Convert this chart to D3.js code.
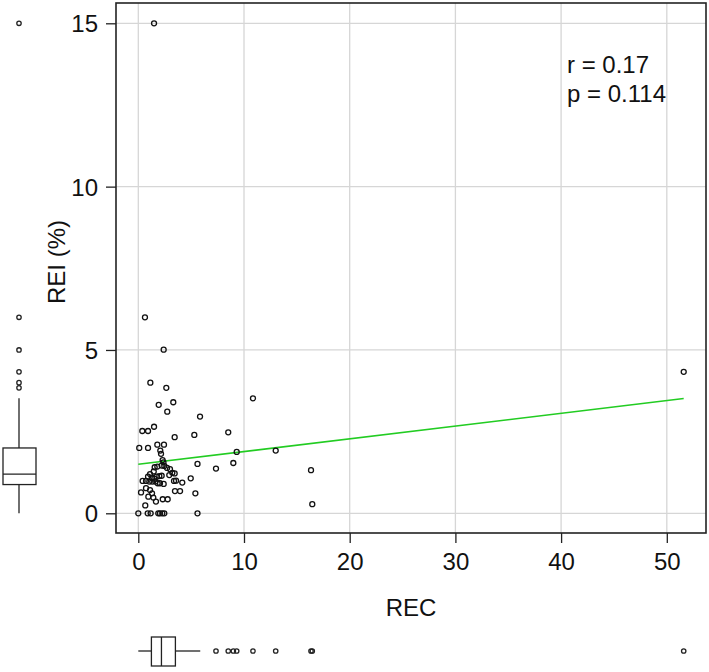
<!DOCTYPE html>
<html>
<head>
<meta charset="utf-8">
<script src="https://cdn.jsdelivr.net/npm/d3@7"></script>
<style>
  html, body { margin: 0; padding: 0; background: #fff; }
  svg { display: block; }
  text { font-family: "Liberation Sans", Arial, sans-serif; fill: #111; }
</style>
</head>
<body>
<svg id="chart" width="709" height="672"></svg>
<script>
// ---- data ----
const recValues = [1.49,0.63,2.40,1.14,2.65,1.93,3.31,2.74,10.85,5.84,0.38,0.92,1.49,3.44,5.30,8.51,0.09,0.92,1.80,2.43,2.08,2.15,9.31,13.0,2.30,2.38,5.6,8.99,7.35,4.96,5.4,5.6,16.34,16.46,51.6,
  1.55,1.80,2.21,2.46,2.72,3.0,2.93,3.22,3.44,3.38,3.57,4.16,3.47,3.95,1.46,1.11,0.92,1.27,1.51,1.74,1.99,2.21,0.41,0.73,1.04,1.32,1.61,1.83,2.05,2.40,0.73,1.11,0.26,1.30,0.95,1.42,1.67,2.31,2.78,0.66,0,0.89,1.17,1.89,2.05,2.27,2.46];
const reiValues = [15.0,6.0,5.01,4.0,3.84,3.32,3.40,3.11,3.52,2.96,2.52,2.52,2.65,2.33,2.40,2.48,2.0,2.0,2.10,2.10,1.92,1.82,1.88,1.92,1.63,1.56,1.51,1.54,1.37,1.07,0.61,0,1.32,0.28,4.33,
  1.41,1.43,1.46,1.45,1.39,1.35,1.17,1.24,1.22,0.99,1.0,0.94,0.68,0.68,1.28,1.20,1.12,1.09,1.06,1.12,1.14,1.15,0.99,0.99,0.97,0.97,0.97,0.92,0.92,0.90,0.77,0.71,0.64,0.61,0.51,0.48,0.36,0.43,0.43,0.24,0,0,0,0,0,0,0];
const xTicks = [0,10,20,30,40,50];
const yTicks = [0,5,10,15];
const fitIntercept = 1.50;
const fitSlope = 0.039;
const fitRange = [0, 51.6];
// marginal boxplot statistics [whiskerLow, q1, median, q3, whiskerHigh]
const reiBox = [0, 0.88, 1.2, 2.0, 3.52];
const reiOutliers = [3.84, 4.0, 4.33, 5.0, 6.0, 15.0];
const recBox = [0, 1.24, 2.19, 3.51, 5.86];
const recOutliers = [7.35, 8.51, 8.99, 9.31, 10.85, 13.0, 16.34, 16.46, 51.6];
const statLines = ["r = 0.17", "p = 0.114"];
const xLabel = "REC";
const yLabel = "REI (%)";

// ---- layout ----
const svg = d3.select("#chart");
const box = {left: 116, right: 706, top: 3, bottom: 533};
const x = d3.scaleLinear().domain([0, 50]).range([138.3, 666.8]);
const y = d3.scaleLinear().domain([0, 15]).range([513.3, 23.3]);
const gridColor = "#d6d6d6";
const fs = 24;

// grid
svg.append("g").selectAll("line").data(xTicks).join("line")
  .attr("x1", d => x(d)).attr("x2", d => x(d))
  .attr("y1", box.top).attr("y2", box.bottom)
  .attr("stroke", gridColor).attr("stroke-width", 1.3);
svg.append("g").selectAll("line").data(yTicks).join("line")
  .attr("x1", box.left).attr("x2", box.right)
  .attr("y1", d => y(d)).attr("y2", d => y(d))
  .attr("stroke", gridColor).attr("stroke-width", 1.3);

// axes
const xAxis = d3.axisBottom(x).tickValues(xTicks).tickSize(10).tickPadding(10).tickFormat(d3.format("d"));
const gx = svg.append("g").attr("transform", `translate(0,${box.bottom})`).call(xAxis);
gx.select(".domain").remove();
gx.selectAll("line").attr("stroke", "#222").attr("stroke-width", 1.3);
gx.selectAll("text").attr("font-size", fs).attr("fill", "#111")
  .attr("font-family", "Liberation Sans, Arial, sans-serif");

const yAxis = d3.axisLeft(y).tickValues(yTicks).tickSize(10).tickPadding(8).tickFormat(d3.format("d"));
const gy = svg.append("g").attr("transform", `translate(${box.left},0)`).call(yAxis);
gy.select(".domain").remove();
gy.selectAll("line").attr("stroke", "#222").attr("stroke-width", 1.3);
gy.selectAll("text").attr("font-size", fs).attr("fill", "#111").attr("dy", "0.36em")
  .attr("font-family", "Liberation Sans, Arial, sans-serif");

// plot frame
svg.append("rect")
  .attr("x", box.left).attr("y", box.top)
  .attr("width", box.right - box.left).attr("height", box.bottom - box.top)
  .attr("fill", "none").attr("stroke", "#222").attr("stroke-width", 1.6);

// fit line
svg.append("line")
  .attr("x1", x(fitRange[0])).attr("y1", y(fitIntercept + fitSlope * fitRange[0]))
  .attr("x2", x(fitRange[1])).attr("y2", y(fitIntercept + fitSlope * fitRange[1]))
  .attr("stroke", "#22cc22").attr("stroke-width", 1.6);

// points
const pts = recValues.map((d, i) => ({rec: d, rei: reiValues[i]}));
svg.append("g").selectAll("circle").data(pts).join("circle")
  .attr("cx", d => x(d.rec)).attr("cy", d => y(d.rei)).attr("r", 2.5)
  .attr("fill", "none").attr("stroke", "#111").attr("stroke-width", 1.3);

// stats text
svg.append("g").selectAll("text").data(statLines).join("text")
  .attr("x", 567).attr("y", (d, i) => 73 + i * 29)
  .attr("font-size", fs).text(d => d);

// axis titles
svg.append("text").attr("x", (box.left + box.right) / 2).attr("y", 616)
  .attr("text-anchor", "middle").attr("font-size", fs).text(xLabel);
svg.append("text").attr("transform", `translate(65,262) rotate(-90)`)
  .attr("text-anchor", "middle").attr("font-size", fs).text(yLabel);

// left marginal boxplot (REI)
const lb = {x0: 3, x1: 36, cx: 19};
const gl = svg.append("g").attr("stroke", "#222").attr("stroke-width", 1.3).attr("fill", "none");
gl.append("line").attr("x1", lb.cx).attr("x2", lb.cx).attr("y1", y(reiBox[0])).attr("y2", y(reiBox[1]));
gl.append("line").attr("x1", lb.cx).attr("x2", lb.cx).attr("y1", y(reiBox[3])).attr("y2", y(reiBox[4]));
gl.append("rect").attr("x", lb.x0).attr("width", lb.x1 - lb.x0)
  .attr("y", y(reiBox[3])).attr("height", y(reiBox[1]) - y(reiBox[3]));
gl.append("line").attr("x1", lb.x0).attr("x2", lb.x1).attr("y1", y(reiBox[2])).attr("y2", y(reiBox[2]));
gl.selectAll("circle").data(reiOutliers).join("circle")
  .attr("cx", lb.cx).attr("cy", d => y(d)).attr("r", 2.2);

// bottom marginal boxplot (REC)
const bb = {y0: 637, y1: 666, cy: 651};
const gb = svg.append("g").attr("stroke", "#222").attr("stroke-width", 1.3).attr("fill", "none");
gb.append("line").attr("y1", bb.cy).attr("y2", bb.cy).attr("x1", x(recBox[0])).attr("x2", x(recBox[1]));
gb.append("line").attr("y1", bb.cy).attr("y2", bb.cy).attr("x1", x(recBox[3])).attr("x2", x(recBox[4]));
gb.append("rect").attr("y", bb.y0).attr("height", bb.y1 - bb.y0)
  .attr("x", x(recBox[1])).attr("width", x(recBox[3]) - x(recBox[1]));
gb.append("line").attr("y1", bb.y0).attr("y2", bb.y1).attr("x1", x(recBox[2])).attr("x2", x(recBox[2]));
gb.selectAll("circle").data(recOutliers).join("circle")
  .attr("cy", bb.cy).attr("cx", d => x(d)).attr("r", 2.2);
</script>
</body>
</html>
